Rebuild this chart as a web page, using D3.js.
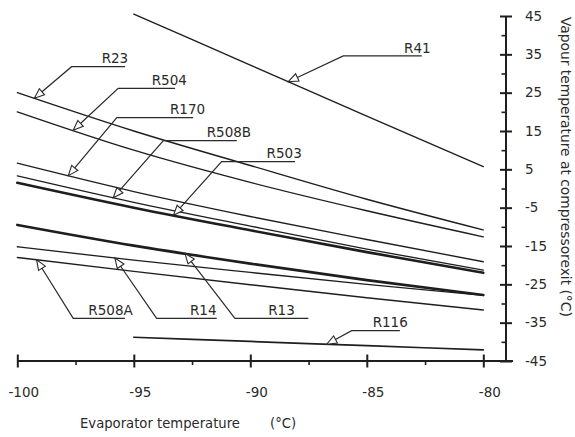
<!DOCTYPE html>
<html><head><meta charset="utf-8">
<script src="https://cdn.jsdelivr.net/npm/d3@7"></script>
<style>
body{margin:0;background:#fff}
svg{display:block}
text{font-family:"DejaVu Sans",Verdana,sans-serif;fill:#2a2a2a}
</style>
</head><body><svg id="chart" width="575" height="437"></svg>
<script>
// ---- data ----
const evapFull = [-100, -95, -90, -85, -80];
const evapShort = [-95, -90, -85, -80];
const refrigerants = ["R41", "R23", "R504", "R170", "R508B", "R503", "R13", "R14", "R508A", "R116"];
const R41   = [45.5, 32.2, 18.9, 5.7];
const R23   = [25.0, 15.0, 6.0, -2.8, -10.8];
const R504  = [20.0, 10.0, 1.6, -5.8, -12.6];
const R170  = [6.6, -0.8, -7.3, -13.3, -19.1];
const R508B = [3.3, -3.6, -9.8, -15.8, -21.3];
const R503  = [1.5, -5.0, -10.9, -16.6, -22.0];
const R13   = [-9.5, -14.9, -19.6, -23.9, -27.8];
const R14   = [-15.2, -18.7, -21.9, -25.0, -27.9];
const R508A = [-18.0, -21.6, -25.1, -28.5, -31.7];
const R116  = [-38.8, -39.9, -41.0, -42.1];
const xTickValues = [-100, -95, -90, -85, -80];
const xMinorTicks = [-97.5, -92.5, -87.5, -82.5];
const xTickLabels = ["-100", "-95", "-90", "-85", "-80"];
const yTickValues = [45, 35, 25, 15, 5, -5, -15, -25, -35, -45];
const yMinorTicks = [40, 30, 20, 10, 0, -10, -20, -30, -40];
const yTickLabels = ["45", "35", "25", "15", "5", "-5", "-15", "-25", "-35", "-45"];
const xAxisTitle = "Evaporator temperature";
const xAxisUnit = "(°C)";
const yAxisTitle = "Vapour temperature at compressorexit (°C)";

// label leader layout, in data units: tip evaporator temp, elbow, shelf end, text start
const labelTip    = [-88.37, -99.27, -97.60, -97.81, -95.88, -93.30, -92.80, -95.81, -99.17, -86.72];
const labelElbowX = [-86.01, -97.67, -95.67, -95.73, -93.73, -91.23, -90.66, -94.02, -97.60, -85.65];
const labelElbowY = [34.6, 31.77, 26.14, 18.47, 12.47, 6.99, -33.87, -33.87, -33.87, -37.10];
const labelShelfX = [-82.64, -95.38, -93.23, -92.45, -90.58, -88.08, -87.51, -91.44, -95.38, -83.58];
const labelTextX  = [-83.40, -96.38, -94.23, -93.45, -91.87, -89.30, -89.23, -92.59, -96.95, -84.75];

// ---- build ----
const seriesX = {R41: evapShort, R116: evapShort};
const seriesY = {R41, R23, R504, R170, R508B, R503, R13, R14, R508A, R116};
const thick = new Set(["R503", "R13"]);

const svg = d3.select("#chart");
const x = d3.scaleLinear().domain([-100, -80]).range([17.3, 483.3]);
const y = d3.scaleLinear().domain([-45, 45]).range([361, 16]);
const yAxisX = 506;
const ink = "#1e1e1e";

// x axis
const xAxisG = svg.append("g").attr("transform", `translate(0,${y(-45)})`);
xAxisG.append("line").attr("x1", x(-100)).attr("x2", yAxisX + 7)
  .attr("stroke", ink).attr("stroke-width", 2);
const xa = d3.axisBottom(x).tickValues(xTickValues).tickSize(6)
  .tickFormat((d, i) => xTickLabels[i]);
const xg = xAxisG.append("g").call(xa);
xg.select(".domain").remove();
xg.selectAll(".tick line").attr("y1", -6.5).attr("y2", 6.5).attr("stroke", ink).attr("stroke-width", 2);
xg.selectAll(".tick text").attr("y", 35.5).attr("dy", 0).attr("dx", 6)
  .attr("font-size", 13.5).attr("font-family", "DejaVu Sans").attr("fill", "#2a2a2a");
const xm = xAxisG.append("g").call(d3.axisBottom(x).tickValues(xMinorTicks).tickSize(4).tickFormat(""));
xm.select(".domain").remove();
xm.selectAll(".tick line").attr("y1", -1).attr("y2", 4).attr("stroke", ink).attr("stroke-width", 1.6);

// y axis
const yAxisG = svg.append("g").attr("transform", `translate(${yAxisX},0)`);
yAxisG.append("line").attr("y1", y(45)).attr("y2", y(-45))
  .attr("stroke", ink).attr("stroke-width", 2);
const ya = d3.axisRight(y).tickValues(yTickValues).tickSize(6).tickPadding(13)
  .tickFormat((d, i) => yTickLabels[i]);
const yg = yAxisG.append("g").call(ya);
yg.select(".domain").remove();
yg.selectAll(".tick line").attr("x1", -6).attr("x2", 6).attr("stroke", ink).attr("stroke-width", 2);
yg.selectAll(".tick text").attr("font-size", 13.5).attr("font-family", "DejaVu Sans").attr("fill", "#2a2a2a");
const ym = yAxisG.append("g").call(d3.axisLeft(y).tickValues(yMinorTicks).tickSize(4.5).tickFormat(""));
ym.select(".domain").remove();
ym.selectAll(".tick line").attr("stroke", ink).attr("stroke-width", 1.6);

// axis titles
svg.append("text").attr("x", 80).attr("y", 428).attr("font-size", 13.2).text(xAxisTitle);
svg.append("text").attr("x", 270).attr("y", 428).attr("font-size", 13.2).text(xAxisUnit);
svg.append("text").attr("transform", `translate(561,17) rotate(90)`)
  .attr("font-size", 13.8).text(yAxisTitle);

// series lines
const line = d3.line().curve(d3.curveMonotoneX);
refrigerants.forEach(name => {
  const xs = seriesX[name] || evapFull;
  const ys = seriesY[name];
  const pts = xs.map((v, i) => [x(v), y(ys[i])]);
  svg.append("path").attr("d", line(pts)).attr("fill", "none")
    .attr("stroke", ink)
    .attr("stroke-width", thick.has(name) ? 2.6 : (name === "R116" ? 1.7 : 1.35))
    .attr("stroke-linecap", "round");
});

// value on a series at given evaporator temperature (linear interp)
function valueAt(name, v) {
  const xs = seriesX[name] || evapFull;
  const ys = seriesY[name];
  for (let i = 0; i < xs.length - 1; i++) {
    if (v >= xs[i] && v <= xs[i + 1]) {
      const t = (v - xs[i]) / (xs[i + 1] - xs[i]);
      return ys[i] + t * (ys[i + 1] - ys[i]);
    }
  }
  return ys[0];
}

// labels with leaders and open arrowheads
const lab = svg.append("g");
refrigerants.forEach((name, i) => {
  const tx = x(labelTip[i]), ty = y(valueAt(name, labelTip[i]));
  const ex = x(labelElbowX[i]), ey = y(labelElbowY[i]);
  const sx = x(labelShelfX[i]);
  lab.append("polyline")
    .attr("points", `${tx},${ty} ${ex},${ey} ${sx},${ey}`)
    .attr("fill", "none").attr("stroke", "#2a2a2a").attr("stroke-width", 1.2);
  // arrowhead
  const dx = ex - tx, dy = ey - ty, L = Math.hypot(dx, dy);
  const ux = dx / L, uy = dy / L;
  const hl = 10, hw = 4;
  const bx = tx + ux * hl, by = ty + uy * hl;
  const p1 = [bx - uy * hw, by + ux * hw], p2 = [bx + uy * hw, by - ux * hw];
  lab.append("path")
    .attr("d", `M${tx},${ty}L${p1[0]},${p1[1]}L${p2[0]},${p2[1]}Z`)
    .attr("fill", "#fff").attr("stroke", "#2a2a2a").attr("stroke-width", 1.1);
  lab.append("text").attr("x", x(labelTextX[i])).attr("y", ey - 3.3)
    .attr("font-size", 13.5).text(name);
});
</script>
</body></html>
